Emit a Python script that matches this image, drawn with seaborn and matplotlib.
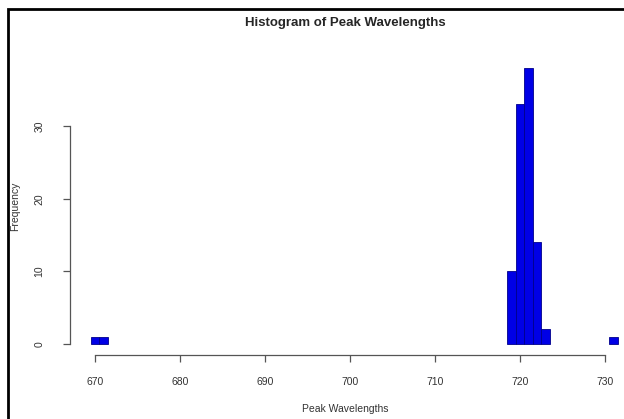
import matplotlib
matplotlib.use("Agg")
import matplotlib.pyplot as plt
import seaborn as sns
import pandas as pd
from matplotlib.patches import Rectangle

# Peak wavelengths (bin centres) and how many samples fall in each bin
wavelengths = [670, 671, 719, 720, 721, 722, 723, 731]
counts = [1, 1, 10, 33, 38, 14, 2, 1]
x_ticks = [670, 680, 690, 700, 710, 720, 730]
y_ticks = [0, 10, 20, 30]

df = pd.DataFrame({"wavelength": wavelengths, "count": counts})

sns.set_style("white")
plt.rcParams["font.family"] = ["Liberation Sans", "DejaVu Sans"]

fig = plt.figure(figsize=(6.24, 4.19), dpi=100)
ax = fig.add_axes([69.5 / 624, 64 / 419, (622 - 69.5) / 624, (355 - 57) / 419])

sns.histplot(data=df, x="wavelength", weights="count", binwidth=1,
             binrange=(669.5, 731.5), color="#0000e6", edgecolor="#00008b",
             linewidth=0.6, alpha=1, ax=ax)

# R's hist doesn't draw anything for empty bins
for p in list(ax.patches):
    if p.get_height() == 0:
        p.remove()

ax.set_xlim(667, 732)
ax.set_ylim(-1.52, 39.52)
ax.set_xticks(x_ticks)
ax.set_yticks(y_ticks)
ax.set_yticklabels([str(t) for t in y_ticks], rotation=90, va="center")

for side in ["top", "right"]:
    ax.spines[side].set_visible(False)
ax.spines["left"].set_bounds(0, 30)
ax.spines["bottom"].set_bounds(670, 730)
for side in ["left", "bottom"]:
    ax.spines[side].set_color("#555555")
    ax.spines[side].set_linewidth(0.9)
ax.tick_params(axis="both", direction="out", length=5, width=0.9, color="#555555",
               labelsize=7.5, labelcolor="#333333", left=True, bottom=True)
ax.tick_params(axis="x", pad=11)
ax.tick_params(axis="y", pad=13)

ax.set_xlabel("Peak Wavelengths", fontsize=7.5, color="#333333", labelpad=12)
ax.set_ylabel("Frequency", fontsize=7.5, color="#333333", labelpad=10)
ax.set_title("Histogram of Peak Wavelengths", fontsize=9.5, fontweight="bold", pad=22)

# black frame round the figure, as in the screenshot
fig.patches.append(Rectangle((8 / 624, -0.1), 1.2, (419 - 9) / 419 + 0.1,
                             transform=fig.transFigure, fill=False,
                             edgecolor="black", linewidth=2))

fig.savefig("out.png", dpi=100)
